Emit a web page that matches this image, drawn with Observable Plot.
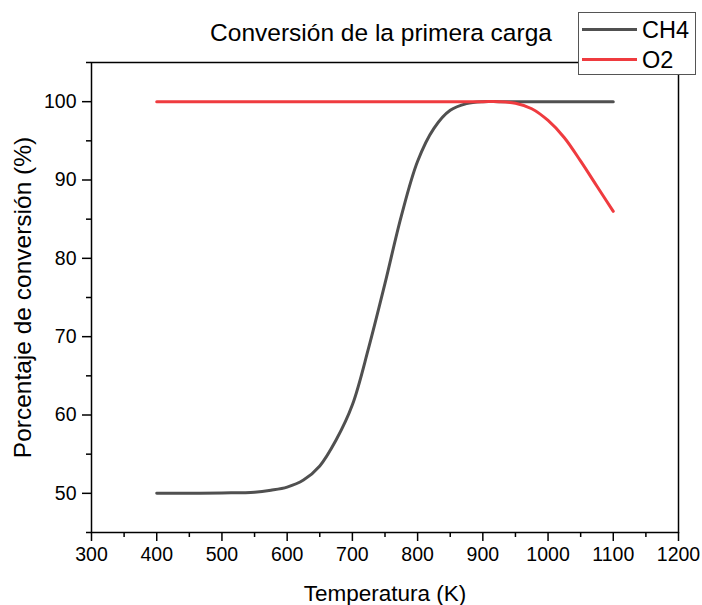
<!DOCTYPE html>
<html>
<head>
<meta charset="utf-8">
<script src="https://cdn.jsdelivr.net/npm/d3@7"></script>
<script src="https://cdn.jsdelivr.net/npm/@observablehq/plot@0.6"></script>
<style>
  body { margin: 0; background: #fff; }
  #wrap { position: relative; width: 702px; height: 605px; font-family: "Liberation Sans", Arial, sans-serif; }
  #legend { position: absolute; left: 578px; top: 12px; width: 118px; height: 63px; background: #fff; border: 1px solid #555; box-sizing: border-box; }
</style>
</head>
<body>
<div id="wrap"></div>
<script>
// Data
const temperatures = [400, 450, 500, 550, 575, 600, 625, 650, 675, 700, 725, 750, 775, 800, 825, 850, 875, 900, 925, 950, 975, 1000, 1025, 1050, 1075, 1100];
const ch4 = [50.0, 50.0, 50.05, 50.15, 50.4, 50.8, 51.7, 53.5, 56.8, 61.3, 68.6, 76.8, 85.4, 92.4, 96.6, 98.9, 99.75, 100, 100, 100, 100, 100, 100, 100, 100, 100];
const o2 = [100, 100, 100, 100, 100, 100, 100, 100, 100, 100, 100, 100, 100, 100, 100, 100, 100, 100, 100, 99.8, 99.1, 97.6, 95.4, 92.4, 89.2, 86.0];
const seriesNames = ["CH4", "O2"];
const seriesColors = ["#505050", "#ef3b3f"];
const xTicks = [300, 400, 500, 600, 700, 800, 900, 1000, 1100, 1200];
const xMinor = [350, 450, 550, 650, 750, 850, 950, 1050, 1150];
const yTicks = [50, 60, 70, 80, 90, 100];
const yMinor = [45, 55, 65, 75, 85, 95, 105];
const titleText = "Conversión de la primera carga";
const xLabel = "Temperatura (K)";
const yLabel = "Porcentaje de conversión (%)";

const rows = [];
temperatures.forEach((t, i) => {
  rows.push({T: t, v: ch4[i], s: seriesNames[0]});
});
temperatures.forEach((t, i) => {
  rows.push({T: t, v: o2[i], s: seriesNames[1]});
});

const font = "Liberation Sans, Arial, sans-serif";

const chart = Plot.plot({
  width: 702,
  height: 605,
  marginLeft: 91,
  marginRight: 24,
  marginTop: 62,
  marginBottom: 73,
  style: {fontFamily: font, fontSize: "19px", color: "#000", background: "#fff"},
  x: {domain: [300, 1200]},
  y: {domain: [45, 105]},
  color: {domain: seriesNames, range: seriesColors},
  marks: [
    Plot.lineY(rows, {x: "T", y: "v", stroke: "s", z: "s", strokeWidth: 3, curve: "catmull-rom"}),
    Plot.frame({stroke: "#000", strokeWidth: 1.5}),
    Plot.axisX({ticks: xTicks, tickFormat: d => String(d), tickSize: 9, tickPadding: 6, fontSize: 19.5, label: null, strokeWidth: 1.5, stroke: "#000"}),
    Plot.axisX({ticks: xMinor, tickSize: 5, text: null, label: null, strokeWidth: 1.5}),
    Plot.axisY({ticks: yTicks, tickFormat: d => String(d), tickSize: 9, tickPadding: 6, fontSize: 19.5, label: null, strokeWidth: 1.5}),
    Plot.axisY({ticks: yMinor, tickSize: 5, text: null, label: null, strokeWidth: 1.5}),
    Plot.text([xLabel], {frameAnchor: "bottom", dy: 61, fontSize: 22.5, lineAnchor: "middle", fill: "#000"}),
    Plot.text([yLabel], {frameAnchor: "left", dx: -68, rotate: -90, fontSize: 24.5, textAnchor: "middle", lineAnchor: "middle", fill: "#000"}),
    Plot.text([titleText], {frameAnchor: "top", dx: -4, dy: -29, fontSize: 24.5, lineAnchor: "middle", fill: "#000"})
  ]
});

const wrap = document.getElementById("wrap");
wrap.appendChild(chart);

// Legend
const legend = document.createElement("div");
legend.id = "legend";
const ns = "http://www.w3.org/2000/svg";
const lsvg = document.createElementNS(ns, "svg");
lsvg.setAttribute("width", 116);
lsvg.setAttribute("height", 61);
lsvg.style.position = "absolute";
lsvg.style.left = "0px";
lsvg.style.top = "0px";
seriesNames.forEach((name, i) => {
  const y = 16.5 + i * 30;
  const line = document.createElementNS(ns, "line");
  line.setAttribute("x1", 3);
  line.setAttribute("x2", 58);
  line.setAttribute("y1", y);
  line.setAttribute("y2", y);
  line.setAttribute("stroke", seriesColors[i]);
  line.setAttribute("stroke-width", 3);
  lsvg.appendChild(line);
  const txt = document.createElementNS(ns, "text");
  txt.setAttribute("x", 63);
  txt.setAttribute("y", y);
  txt.setAttribute("dy", "0.36em");
  txt.setAttribute("font-size", 23.5);
  txt.setAttribute("font-family", font);
  txt.setAttribute("fill", "#000");
  txt.textContent = name;
  lsvg.appendChild(txt);
});
legend.appendChild(lsvg);
wrap.appendChild(legend);
</script>
</body>
</html>
